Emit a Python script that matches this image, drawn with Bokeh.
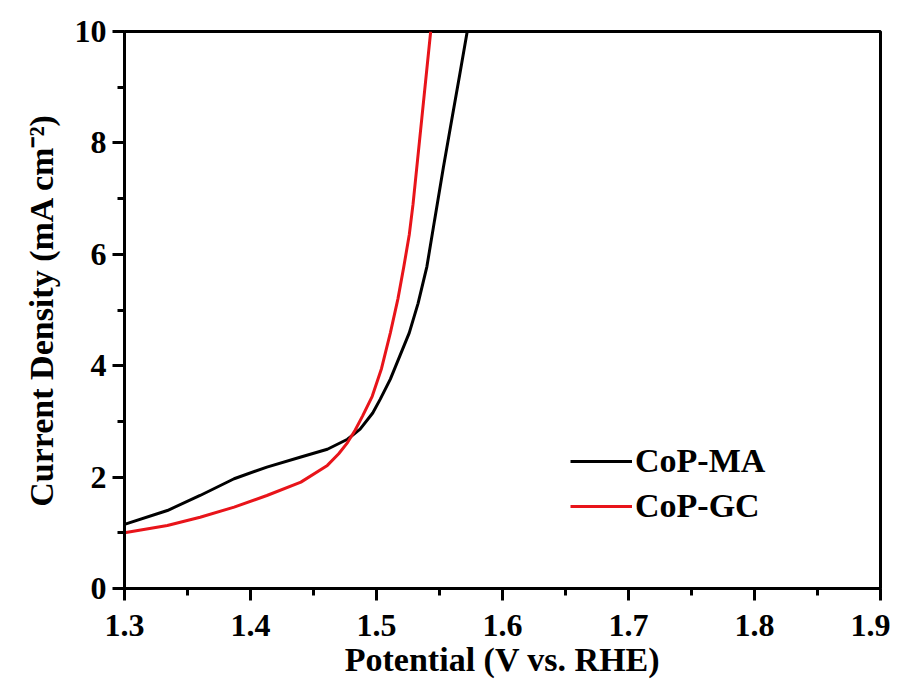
from bokeh.plotting import figure
from bokeh.models import Legend, LegendItem, FixedTicker, Range1d
from bokeh.embed import file_html
from bokeh.resources import INLINE

# Data
ma_v = [1.300, 1.334, 1.360, 1.387, 1.413, 1.440, 1.461, 1.477, 1.487, 1.497,
        1.503, 1.511, 1.526, 1.533, 1.540, 1.546, 1.553, 1.560, 1.566, 1.572]
ma_j = [1.15, 1.40, 1.67, 1.97, 2.18, 2.36, 2.50, 2.68, 2.86, 3.15,
        3.40, 3.76, 4.59, 5.12, 5.78, 6.60, 7.55, 8.45, 9.22, 10.0]

gc_v = [1.300, 1.334, 1.360, 1.387, 1.413, 1.440, 1.461, 1.470, 1.477, 1.483,
        1.489, 1.4966, 1.504, 1.511, 1.517, 1.5217, 1.526, 1.529, 1.536, 1.543]
gc_j = [1.00, 1.13, 1.28, 1.46, 1.67, 1.91, 2.21, 2.42, 2.62, 2.84,
        3.10, 3.45, 3.95, 4.59, 5.20, 5.78, 6.35, 6.90, 8.45, 10.0]

x_ticks = [1.3, 1.4, 1.5, 1.6, 1.7, 1.8, 1.9]
x_minor = [1.35, 1.45, 1.55, 1.65, 1.75, 1.85]
y_ticks = [0, 2, 4, 6, 8, 10]
y_minor = [1, 3, 5, 7, 9]
labels = ["CoP-MA", "CoP-GC"]

FONT = "'Liberation Serif', 'Times New Roman', serif"

p = figure(width=890, height=680, output_backend="svg", toolbar_location=None,
           x_range=Range1d(1.3, 1.9), y_range=Range1d(0, 10),
           min_border_left=124, min_border_right=10, min_border_top=31,
           min_border_bottom=90)

r1 = p.line(ma_v, ma_j, line_color="black", line_width=3)
r2 = p.line(gc_v, gc_j, line_color="#e8141a", line_width=3)

p.grid.visible = False
p.outline_line_color = "black"
p.outline_line_width = 3
p.background_fill_color = "white"
p.border_fill_color = "white"

for ax in (p.xaxis[0], p.yaxis[0]):
    ax.axis_line_width = 3
    ax.major_tick_line_width = 3
    ax.minor_tick_line_width = 3
    ax.major_tick_out = 12
    ax.major_tick_in = 0
    ax.minor_tick_out = 7
    ax.minor_tick_in = 0
    ax.major_label_text_font = FONT
    ax.major_label_text_font_style = "bold"
    ax.major_label_text_font_size = "32px"
    ax.major_label_text_color = "black"
    ax.axis_label_text_font = FONT
    ax.axis_label_text_font_style = "bold"
    ax.axis_label_text_font_size = "34px"
    ax.axis_label_text_color = "black"

p.xaxis[0].ticker = FixedTicker(ticks=x_ticks, minor_ticks=x_minor)
p.yaxis[0].ticker = FixedTicker(ticks=y_ticks, minor_ticks=y_minor)
p.xaxis[0].major_label_overrides = {t: f"{t:.1f}" for t in x_ticks}
p.yaxis[0].major_label_overrides = {t: f"{t}" for t in y_ticks}
p.xaxis[0].axis_label = "Potential (V vs. RHE)"
p.yaxis[0].axis_label = "Current Density (mA cm\u207b\u00b2)"
p.xaxis[0].major_label_standoff = 14
p.yaxis[0].major_label_standoff = 6
p.xaxis[0].axis_label_standoff = 2
p.yaxis[0].axis_label_standoff = 12

legend = Legend(items=[LegendItem(label=labels[0], renderers=[r1]),
                       LegendItem(label=labels[1], renderers=[r2])],
                location=(446, 62))
legend.border_line_color = None
legend.background_fill_alpha = 0
legend.glyph_width = 62
legend.glyph_height = 40
legend.label_height = 40
legend.label_standoff = 3
legend.spacing = 5
legend.padding = 0
legend.margin = 0
legend.label_text_font = FONT
legend.label_text_font_style = "bold"
legend.label_text_font_size = "34px"
legend.label_text_color = "black"
p.add_layout(legend)

open("out.html", "w").write(file_html(p, INLINE))
